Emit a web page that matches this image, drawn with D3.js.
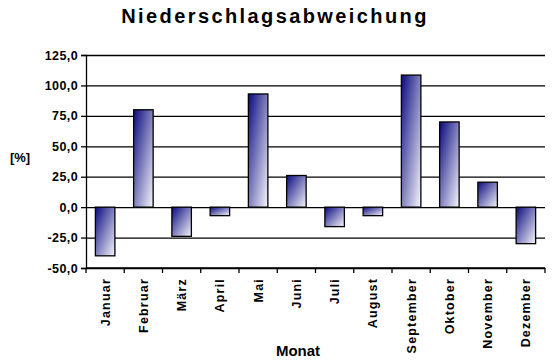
<!DOCTYPE html>
<html>
<head>
<meta charset="utf-8">
<script src="https://cdn.jsdelivr.net/npm/d3@7"></script>
<style>
  body { margin: 0; background: #fff; }
  text { font-family: "Liberation Sans", Arial, sans-serif; font-weight: bold; fill: #000; }
</style>
</head>
<body>
<svg id="chart" width="556" height="364"></svg>
<script>
// Monatsdaten
var months = ["Januar", "Februar", "März", "April", "Mai", "Juni", "Juli",
              "August", "September", "Oktober", "November", "Dezember"];
var values = [-40, 80, -24, -7, 93, 26, -16, -7, 108.5, 70, 20.5, -30];
var yTicks = [-50, -25, 0, 25, 50, 75, 100, 125];

var svg = d3.select("#chart");
var pLeft = 86, pRight = 545, pTop = 55, pBottom = 268;

var x = d3.scaleBand().domain(months).range([pLeft, pRight]).paddingInner(0.49).paddingOuter(0.245);
var y = d3.scaleLinear().domain([-50, 125]).range([pBottom, pTop]);

var defs = svg.append("defs");
var grad = defs.append("linearGradient")
    .attr("id", "barGrad")
    .attr("x1", "0%").attr("y1", "0%")
    .attr("x2", "100%").attr("y2", "100%");
grad.append("stop").attr("offset", "0%").attr("stop-color", "#0a0a7e");
grad.append("stop").attr("offset", "100%").attr("stop-color", "#f6f6fd");

// gitterlinien
svg.append("g")
    .attr("transform", "translate(" + pLeft + ",0)")
    .call(d3.axisLeft(y).tickValues(yTicks).tickSize(-(pRight - pLeft)).tickFormat(""))
    .call(function(g) { g.select(".domain").remove(); })
    .selectAll("line").attr("stroke", "#000").attr("stroke-width", 1.3);

// y achse mit ticks
var yAxis = svg.append("g")
    .attr("transform", "translate(" + pLeft + ",0)")
    .call(d3.axisLeft(y).tickValues(yTicks).tickSize(5).tickPadding(3)
        .tickFormat(function(d) { return d3.format(".1f")(d).replace(".", ",").replace("−", "-"); }));
yAxis.select(".domain").attr("stroke", "#000").attr("stroke-width", 1.3);
yAxis.selectAll("line").attr("stroke", "#000").attr("stroke-width", 1.3);
yAxis.selectAll("text")
    .style("font-size", "12.5px")
    .style("letter-spacing", "0.4px")
    .style("font-family", "'Liberation Sans', Arial, sans-serif")
    .style("font-weight", "bold")
    .attr("fill", "#000");

// balken
svg.append("g").selectAll("rect")
    .data(values)
    .enter().append("rect")
    .attr("x", function(d, i) { return x(months[i]); })
    .attr("y", function(d) { return y(Math.max(0, d)); })
    .attr("width", x.bandwidth())
    .attr("height", function(d) { return Math.abs(y(d) - y(0)); })
    .attr("fill", "url(#barGrad)")
    .attr("stroke", "#000")
    .attr("stroke-width", 1.3);

// x achse
var step = (pRight - pLeft) / months.length;
var xAxis = svg.append("g");
xAxis.append("line")
    .attr("x1", pLeft).attr("x2", pRight)
    .attr("y1", pBottom).attr("y2", pBottom)
    .attr("stroke", "#000").attr("stroke-width", 1.3);
xAxis.selectAll(".tk")
    .data(d3.range(months.length + 1))
    .enter().append("line")
    .attr("x1", function(i) { return pLeft + i * step; })
    .attr("x2", function(i) { return pLeft + i * step; })
    .attr("y1", pBottom).attr("y2", pBottom + 5)
    .attr("stroke", "#000").attr("stroke-width", 1.3);
xAxis.selectAll(".lbl")
    .data(months)
    .enter().append("text")
    .attr("transform", function(d) {
        return "translate(" + (x(d) + x.bandwidth() / 2 + 4.5) + "," + (pBottom + 10) + ") rotate(-90)";
    })
    .attr("text-anchor", "end")
    .style("font-size", "12.5px")
    .style("letter-spacing", "1.2px")
    .text(function(d) { return d; });

// titel
svg.append("text")
    .attr("x", 275).attr("y", 23)
    .attr("text-anchor", "middle")
    .style("font-size", "20px")
    .style("letter-spacing", "2.4px")
    .text("Niederschlagsabweichung");

svg.append("text")
    .attr("x", 20).attr("y", 162)
    .attr("text-anchor", "middle")
    .style("font-size", "13px")
    .text("[%]");

svg.append("text")
    .attr("x", 298).attr("y", 356)
    .attr("text-anchor", "middle")
    .style("font-size", "15px")
    .text("Monat");
</script>
</body>
</html>
